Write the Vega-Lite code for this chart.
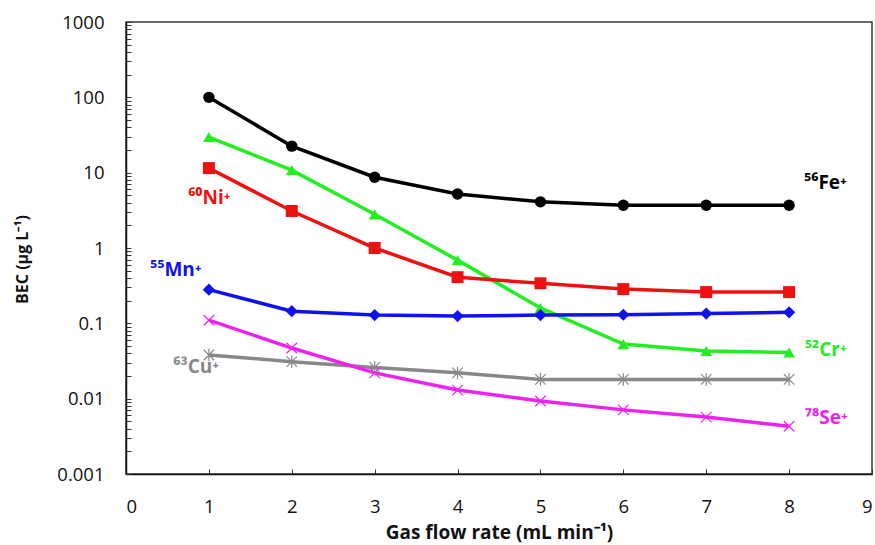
{
  "$schema": "https://vega.github.io/schema/vega-lite/v6.json",
  "width": 746,
  "height": 452,
  "autosize": {"type": "none"},
  "padding": {"left": 126, "top": 22, "right": 3, "bottom": 71},
  "background": "white",
  "config": {
    "view": {"stroke": "#3a3a3a", "strokeWidth": 1.5},
    "font": "Open Sans",
    "axis": {"grid": false, "domainColor": "#111", "domainWidth": 1.5, "tickColor": "#333", "labelFont": "Open Sans", "labelFontSize": 18.5, "labelColor": "#111", "titleFont": "Open Sans", "titleFontWeight": "bold", "titleColor": "#111"}
  },
  "datasets": {
    "bec": [
      {"rate": 1, "ion": "Fe", "bec": 100}, {"rate": 2, "ion": "Fe", "bec": 22.5}, {"rate": 3, "ion": "Fe", "bec": 8.7}, {"rate": 4, "ion": "Fe", "bec": 5.2}, {"rate": 5, "ion": "Fe", "bec": 4.1}, {"rate": 6, "ion": "Fe", "bec": 3.7}, {"rate": 7, "ion": "Fe", "bec": 3.7}, {"rate": 8, "ion": "Fe", "bec": 3.7},
      {"rate": 1, "ion": "Cr", "bec": 29.7}, {"rate": 2, "ion": "Cr", "bec": 10.8}, {"rate": 3, "ion": "Cr", "bec": 2.8}, {"rate": 4, "ion": "Cr", "bec": 0.69}, {"rate": 5, "ion": "Cr", "bec": 0.16}, {"rate": 6, "ion": "Cr", "bec": 0.053}, {"rate": 7, "ion": "Cr", "bec": 0.043}, {"rate": 8, "ion": "Cr", "bec": 0.041},
      {"rate": 1, "ion": "Ni", "bec": 11.5}, {"rate": 2, "ion": "Ni", "bec": 3.1}, {"rate": 3, "ion": "Ni", "bec": 1.0}, {"rate": 4, "ion": "Ni", "bec": 0.41}, {"rate": 5, "ion": "Ni", "bec": 0.34}, {"rate": 6, "ion": "Ni", "bec": 0.285}, {"rate": 7, "ion": "Ni", "bec": 0.26}, {"rate": 8, "ion": "Ni", "bec": 0.26},
      {"rate": 1, "ion": "Mn", "bec": 0.28}, {"rate": 2, "ion": "Mn", "bec": 0.145}, {"rate": 3, "ion": "Mn", "bec": 0.129}, {"rate": 4, "ion": "Mn", "bec": 0.125}, {"rate": 5, "ion": "Mn", "bec": 0.129}, {"rate": 6, "ion": "Mn", "bec": 0.13}, {"rate": 7, "ion": "Mn", "bec": 0.135}, {"rate": 8, "ion": "Mn", "bec": 0.14},
      {"rate": 1, "ion": "Cu", "bec": 0.038}, {"rate": 2, "ion": "Cu", "bec": 0.031}, {"rate": 3, "ion": "Cu", "bec": 0.026}, {"rate": 4, "ion": "Cu", "bec": 0.022}, {"rate": 5, "ion": "Cu", "bec": 0.018}, {"rate": 6, "ion": "Cu", "bec": 0.018}, {"rate": 7, "ion": "Cu", "bec": 0.018}, {"rate": 8, "ion": "Cu", "bec": 0.018},
      {"rate": 1, "ion": "Se", "bec": 0.11}, {"rate": 2, "ion": "Se", "bec": 0.047}, {"rate": 3, "ion": "Se", "bec": 0.022}, {"rate": 4, "ion": "Se", "bec": 0.013}, {"rate": 5, "ion": "Se", "bec": 0.0093}, {"rate": 6, "ion": "Se", "bec": 0.0071}, {"rate": 7, "ion": "Se", "bec": 0.0057}, {"rate": 8, "ion": "Se", "bec": 0.0043}
    ],
    "labels": [
      {"rate": 8.18, "bec": 7.3, "ion": "Fe", "label": "⁵⁶Fe⁺"},
      {"rate": 0.75, "bec": 4.6, "ion": "Ni", "label": "⁶⁰Ni⁺"},
      {"rate": 0.29, "bec": 0.51, "ion": "Mn", "label": "⁵⁵Mn⁺"},
      {"rate": 0.57, "bec": 0.026, "ion": "Cu", "label": "⁶³Cu⁺"},
      {"rate": 8.19, "bec": 0.044, "ion": "Cr", "label": "⁵²Cr⁺"},
      {"rate": 8.19, "bec": 0.0055, "ion": "Se", "label": "⁷⁸Se⁺"}
    ]
  },
  "encoding": {
    "x": {"field": "rate", "type": "quantitative", "scale": {"domain": [0, 9], "nice": false, "zero": false},
      "axis": {"title": "Gas flow rate (mL min⁻¹)", "titleFontSize": 19, "values": [0,1,2,3,4,5,6,7,8,9], "format": "d", "tickSize": -5, "labelPadding": 28, "titlePadding": 8}},
    "y": {"field": "bec", "type": "quantitative", "scale": {"type": "log", "domain": [0.001, 1000], "nice": false},
      "axis": {"title": "BEC (µg L⁻¹)", "titleFontSize": 16, "titleX": -104, "titleY": 237, "titleBaseline": "middle",
        "values": [0.001,0.002,0.003,0.004,0.005,0.006,0.007,0.008,0.009,0.01,0.02,0.03,0.04,0.05,0.06,0.07,0.08,0.09,0.1,0.2,0.3,0.4,0.5,0.6,0.7,0.8,0.9,1,2,3,4,5,6,7,8,9,10,20,30,40,50,60,70,80,90,100,200,300,400,500,600,700,800,900,1000],
        "labelExpr": "abs(log(datum.value)/LN10 - round(log(datum.value)/LN10)) < 1e-6 ? format(datum.value, '~g') : ''",
        "tickSize": -5, "labelPadding": 27}},
    "color": {"field": "ion", "type": "nominal", "legend": null,
      "scale": {"domain": ["Fe", "Cr", "Ni", "Mn", "Cu", "Se"], "range": ["#000000", "#22ee22", "#ee1111", "#1111ee", "#888888", "#ee22ee"]}}
  },
  "layer": [
    {"data": {"name": "bec"}, "mark": {"type": "line", "strokeWidth": 3.5}, "encoding": {"detail": {"field": "ion"}}},
    {"data": {"name": "bec"}, "transform": [{"filter": "indexof(['Fe','Cr','Ni','Mn'], datum.ion) >= 0"}],
      "mark": {"type": "point", "filled": true, "opacity": 1},
      "encoding": {
        "shape": {"field": "ion", "type": "nominal", "legend": null, "scale": {"domain": ["Fe", "Cr", "Ni", "Mn"], "range": ["circle", "triangle-up", "square", "diamond"]}},
        "size": {"field": "ion", "type": "nominal", "legend": null, "scale": {"domain": ["Fe", "Cr", "Ni", "Mn"], "range": [130, 150, 150, 110]}}
      }},
    {"data": {"name": "bec"}, "transform": [{"filter": "datum.ion == 'Se'"}],
      "mark": {"type": "point", "filled": false, "opacity": 1, "strokeWidth": 1.2, "size": 110, "shape": "M-1,-1L1,1M1,-1L-1,1"}},
    {"data": {"name": "bec"}, "transform": [{"filter": "datum.ion == 'Cu'"}],
      "mark": {"type": "point", "filled": false, "opacity": 1, "strokeWidth": 1.2, "size": 110, "shape": "M-1,-1L1,1M1,-1L-1,1M0,-1.2L0,1.2"}},
    {"data": {"name": "labels"}, "mark": {"type": "text", "align": "left", "baseline": "middle", "fontSize": 19, "fontWeight": "bold", "font": "Open Sans"},
      "encoding": {"text": {"field": "label"}}}
  ]
}
